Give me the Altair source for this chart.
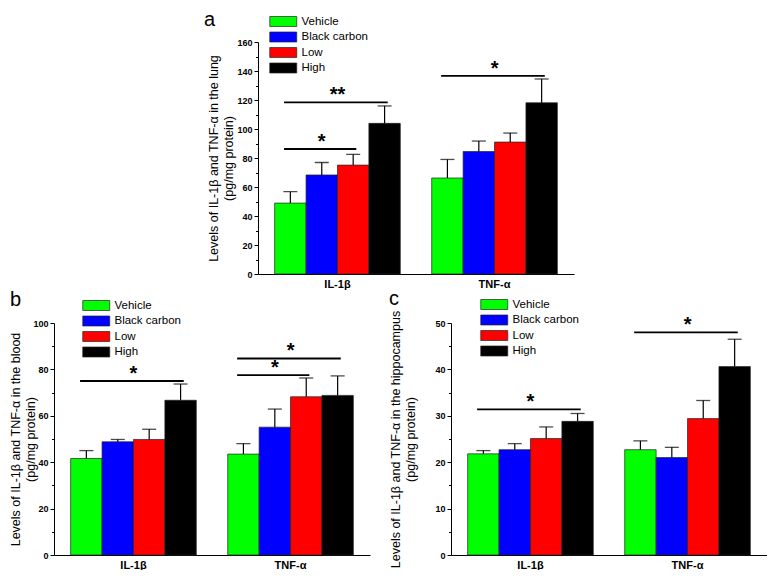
import altair as alt
import pandas as pd

groups = ["IL-1β", "TNF-α"]
treatments = ["Vehicle", "Black carbon", "Low", "High"]
colors = ["#00ff00", "#0000ff", "#ff0000", "#000000"]

# panel a: lung
lung_il = [48.9, 68.3, 75.1, 103.9]
lung_il_err = [7.9, 8.6, 7.4, 12.0]
lung_tnf = [66.2, 84.5, 91.0, 118.1]
lung_tnf_err = [12.8, 7.2, 6.2, 16.4]
lung_sig_group = ["IL-1β", "IL-1β", "TNF-α"]
lung_sig_from = ["Vehicle", "Vehicle", "Vehicle"]
lung_sig_to = ["Low", "High", "High"]
lung_sig_y = [86.2, 118.3, 136.7]
lung_sig_label = ["*", "**", "*"]

# panel b: blood
blood_il = [41.6, 48.8, 49.8, 66.7]
blood_il_err = [3.4, 1.0, 4.4, 7.0]
blood_tnf = [43.5, 55.1, 68.2, 68.8]
blood_tnf_err = [4.5, 7.8, 8.1, 8.4]
blood_sig_group = ["IL-1β", "TNF-α", "TNF-α"]
blood_sig_from = ["Vehicle", "Vehicle", "Vehicle"]
blood_sig_to = ["High", "Low", "High"]
blood_sig_y = [75.0, 77.5, 84.7]
blood_sig_label = ["*", "*", "*"]

# panel c: hippocampus
hippo_il = [21.8, 22.7, 25.1, 28.8]
hippo_il_err = [0.7, 1.3, 2.5, 1.7]
hippo_tnf = [22.7, 21.0, 29.4, 40.6]
hippo_tnf_err = [1.9, 2.2, 3.9, 5.9]
hippo_sig_group = ["IL-1β", "TNF-α"]
hippo_sig_from = ["Vehicle", "Vehicle"]
hippo_sig_to = ["High", "High"]
hippo_sig_y = [31.4, 48.0]
hippo_sig_label = ["*", "*"]

FONT = "Liberation Sans"
W, H = 316, 232
SEP = "|"
GAP = "gap"
slots = [f"{groups[0]}{SEP}{t}" for t in treatments] + [GAP] + [f"{groups[1]}{SEP}{t}" for t in treatments]
PAD_OUTER = 0.53  # outer padding, in bar widths
# matching band scale for the two groups: each group = 4 bars, gap between groups = 1 bar
G_STEP = len(treatments) + 1
G_PAD_INNER = 1 / G_STEP
G_PAD_OUTER = PAD_OUTER / G_STEP


def make_panel(il, il_err, tnf, tnf_err, sg, sf, st, sy, sl, ymax, major, minor,
               title, title_size, letter, letter_dx, letter_dy, lx, ly, tx):
    rows = []
    for g, means, errs in [(groups[0], il, il_err), (groups[1], tnf, tnf_err)]:
        for t, m, e in zip(treatments, means, errs):
            rows.append({"key": f"{g}{SEP}{t}", "treatment": t, "mean": m, "upper": m + e})
    df = pd.DataFrame(rows)

    sig_rows = []
    for g, f, to, yv, lab in zip(sg, sf, st, sy, sl):
        i, j = treatments.index(f), treatments.index(to)
        n = j - i + 1
        if n % 2:
            mid, band = i + n // 2, 0.5
        else:
            mid, band = i + n // 2 - 1, 1.0
        sig_rows.append({"start": f"{g}{SEP}{f}", "end": f"{g}{SEP}{to}",
                         "mid": f"{g}{SEP}{treatments[mid]}", "band": band,
                         "y": yv, "label": lab})
    sig = pd.DataFrame(sig_rows)

    xs = alt.Scale(type="band", domain=slots, paddingInner=0, paddingOuter=PAD_OUTER)
    gs = alt.Scale(type="band", domain=groups, paddingInner=G_PAD_INNER, paddingOuter=G_PAD_OUTER)
    ys = alt.Scale(domain=[0, ymax], nice=False, zero=True)
    x_axis = alt.Axis(ticks=False, labelAngle=0,
                      labelFontWeight="bold", labelFontSize=11, labelPadding=4,
                      labelColor="black", labelFont=FONT,
                      title=None, grid=False, domainColor="black", domainWidth=1)
    y_axis = alt.Axis(values=list(range(0, ymax + 1, major)), grid=False, orient="left",
                      labelFontWeight="bold", labelFontSize=9, labelPadding=2,
                      tickSize=4, tickColor="black", domainColor="black",
                      title=title, titleFontWeight="normal", titleFontSize=title_size,
                      titleAngle=270, titleAlign="center", titleBaseline="top",
                      titleX=tx, titleY=H / 2, titleLineHeight=15)
    minor_axis = alt.Axis(values=[v for v in range(0, ymax + 1, minor) if v % major],
                          labels=False, domain=False, grid=False, orient="left",
                          tickSize=2.5, tickColor="black", title=None)

    base = alt.Chart(df)
    bars = base.mark_bar(stroke="#222222", strokeWidth=0.7).encode(
        x=alt.X("key:N", scale=xs, axis=None),
        y=alt.Y("mean:Q", scale=ys, axis=y_axis, stack=None),
        color=alt.Color("treatment:N", scale=alt.Scale(domain=treatments, range=colors),
                        legend=alt.Legend(orient="none", legendX=lx + 6.75, legendY=ly, title=None,
                                          symbolType="M-2,-0.74H2V0.74H-2Z", symbolSize=182,
                                          symbolStrokeColor="#222222", symbolStrokeWidth=0.7,
                                          labelFont=FONT, labelFontSize=11.5, labelColor="black",
                                          rowPadding=1.5, labelOffset=10.75, padding=0,
                                          symbolOpacity=1)),
    )
    err = base.mark_rule(color="black", strokeWidth=1.2).encode(
        x=alt.X("key:N", scale=xs, axis=None),
        y=alt.Y("mean:Q", scale=ys, axis=None),
        y2="upper:Q",
    )
    cap = base.mark_tick(color="black", thickness=1.3, size=14).encode(
        x=alt.X("key:N", scale=xs, axis=None),
        y=alt.Y("upper:Q", scale=ys, axis=None),
    )
    sbase = alt.Chart(sig)
    srule = sbase.mark_rule(color="black", strokeWidth=1.8).encode(
        x=alt.X("start:N", scale=xs, axis=None, bandPosition=0.3),
        x2=alt.X2("end:N", bandPosition=0.6),
        y=alt.Y("y:Q", scale=ys, axis=None),
    )
    star_kw = dict(font=FONT, fontSize=20, fontWeight="bold", color="black",
                   baseline="alphabetic", dy=-1)
    star_c = sbase.transform_filter("datum.band == 0.5").mark_text(**star_kw).encode(
        x=alt.X("mid:N", scale=xs, axis=None, bandPosition=0.5),
        y=alt.Y("y:Q", scale=ys, axis=None),
        text="label:N",
    )
    star_e = sbase.transform_filter("datum.band == 1").mark_text(**star_kw).encode(
        x=alt.X("mid:N", scale=xs, axis=None, bandPosition=1),
        y=alt.Y("y:Q", scale=ys, axis=None),
        text="label:N",
    )
    minor_layer = base.mark_point(opacity=0).encode(
        y=alt.Y("mean:Q", scale=ys, axis=minor_axis),
    )
    group_layer = alt.Chart(pd.DataFrame({"group": groups})).mark_point(opacity=0).encode(
        x=alt.X("group:N", scale=gs, axis=x_axis),
    )
    return alt.layer(bars, err, cap, srule, star_c, star_e, minor_layer, group_layer).resolve_axis(
        y="independent", x="independent"
    ).resolve_scale(x="independent").properties(
        width=W, height=H,
        title=alt.TitleParams(letter, anchor="start", frame="group", fontSize=20,
                              fontWeight="normal", font=FONT, color="black",
                              dx=letter_dx, dy=letter_dy, offset=0),
    )


pa = make_panel(lung_il, lung_il_err, lung_tnf, lung_tnf_err,
                lung_sig_group, lung_sig_from, lung_sig_to, lung_sig_y, lung_sig_label,
                160, 20, 10,
                ["Levels of IL-1β and TNF-α  in the lung", "(pg/mg protein)"], 12.5,
                "a", -54, 16, 11, -28, -51)
pb = make_panel(blood_il, blood_il_err, blood_tnf, blood_tnf_err,
                blood_sig_group, blood_sig_from, blood_sig_to, blood_sig_y, blood_sig_label,
                100, 20, 10,
                ["Levels of IL-1β and TNF-α  in the blood", "(pg/mg protein)"], 12.5,
                "b", -44, 12, 28, -25, -45)
pc = make_panel(hippo_il, hippo_il_err, hippo_tnf, hippo_tnf_err,
                hippo_sig_group, hippo_sig_from, hippo_sig_to, hippo_sig_y, hippo_sig_label,
                50, 10, 5,
                ["Levels of IL-1β and TNF-α in the hippocampus", "(pg/mg protein)"], 12.5,
                "c", -62, 12, 29, -26, -62)

spacer = alt.Chart(pd.DataFrame({"v": [0]})).mark_point(opacity=0).properties(width=194, height=H)

top = alt.hconcat(spacer, pa, spacing=10, bounds="flush").resolve_scale(color="independent")
bottom = alt.hconcat(pb, pc, spacing=81, bounds="flush").resolve_scale(color="independent")
chart = alt.vconcat(top, bottom, spacing=0).resolve_scale(color="independent").properties(
    padding={"top": 2, "left": 0, "right": 0, "bottom": 0}, background="white"
).configure_view(stroke=None).configure_axis(
    labelFont=FONT, titleFont=FONT, labelColor="black", titleColor="black"
)

chart.save("out.html", embed_options={"renderer": "svg", "actions": False})
